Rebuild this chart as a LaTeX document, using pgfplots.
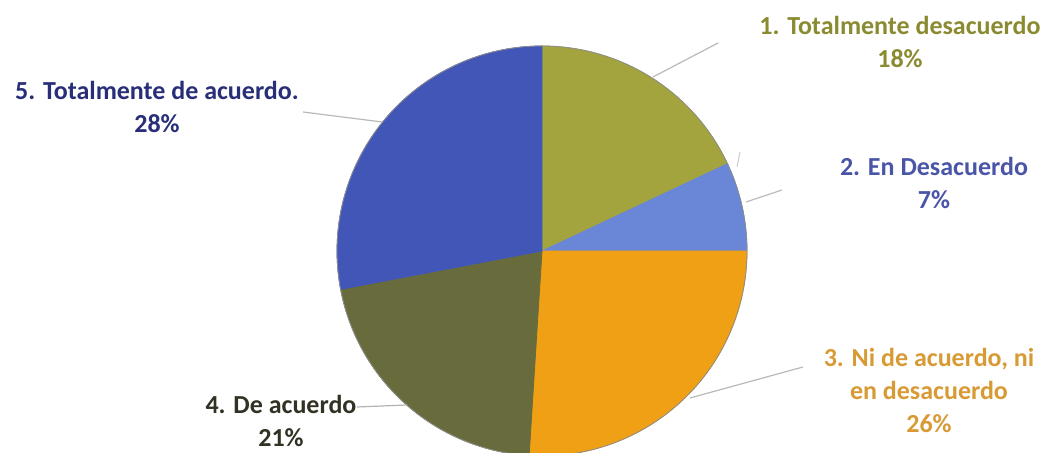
\documentclass[border=0pt]{standalone}
\usepackage{pgfplots}
\pgfplotsset{compat=1.18}
\usepackage{fontspec}
\setmainfont{Carlito}
\definecolor{c1}{RGB}{163,164,62}
\definecolor{c2}{RGB}{106,134,214}
\definecolor{c3}{RGB}{240,160,20}
\definecolor{c4}{RGB}{104,108,60}
\definecolor{c5}{RGB}{66,86,184}
\definecolor{t1}{RGB}{138,138,48}
\definecolor{t2}{RGB}{74,85,168}
\definecolor{t3}{RGB}{216,154,52}
\definecolor{t4}{RGB}{50,50,36}
\definecolor{t5}{RGB}{40,46,120}
% percentages of the five categories
\def\pA{18}\def\pB{7}\def\pC{26}\def\pD{21}\def\pE{28}
\pgfmathsetmacro{\aS}{90}
\pgfmathsetmacro{\aA}{\aS-3.6*\pA}
\pgfmathsetmacro{\aB}{\aA-3.6*\pB}
\pgfmathsetmacro{\aC}{\aB-3.6*\pC}
\pgfmathsetmacro{\aD}{\aC-3.6*\pD}
\pgfmathsetmacro{\aE}{\aD-3.6*\pE}
\def\cx{542}\def\cy{202}\def\rr{205}
\tikzset{lbl/.style={font=\fontsize{13}{16.5}\selectfont\bfseries,align=center,inner sep=0pt}}
\begin{document}
\begin{tikzpicture}
\begin{axis}[width=525.5pt,height=226.5pt,scale only axis,
  xmin=0,xmax=1051,ymin=0,ymax=453,hide axis,clip=true]
\addplot[fill=c1,draw=c1,domain=\aA:\aS,samples=60,variable=\t] ({\cx+\rr*cos(\t)},{\cy+\rr*sin(\t)}) -- (axis cs:\cx,\cy) -- cycle;
\addplot[fill=c2,draw=c2,domain=\aB:\aA,samples=30,variable=\t] ({\cx+\rr*cos(\t)},{\cy+\rr*sin(\t)}) -- (axis cs:\cx,\cy) -- cycle;
\addplot[fill=c3,draw=c3,domain=\aC:\aB,samples=60,variable=\t] ({\cx+\rr*cos(\t)},{\cy+\rr*sin(\t)}) -- (axis cs:\cx,\cy) -- cycle;
\addplot[fill=c4,draw=c4,domain=\aD:\aC,samples=60,variable=\t] ({\cx+\rr*cos(\t)},{\cy+\rr*sin(\t)}) -- (axis cs:\cx,\cy) -- cycle;
\addplot[fill=c5,draw=c5,domain=\aE:\aD,samples=60,variable=\t] ({\cx+\rr*cos(\t)},{\cy+\rr*sin(\t)}) -- (axis cs:\cx,\cy) -- cycle;
\addplot[draw=black!45,line width=0.4pt,domain=0:360,samples=181,variable=\t] ({\cx+\rr*cos(\t)},{\cy+\rr*sin(\t)});
% leader lines
\draw[gray!55,line width=0.6pt] (axis cs:653,376) -- (axis cs:718,410);
\draw[gray!40,line width=0.5pt] (axis cs:737,286) -- (axis cs:740,301);
\draw[gray!55,line width=0.6pt] (axis cs:746,251) -- (axis cs:782,263);
\draw[gray!55,line width=0.6pt] (axis cs:690,55) -- (axis cs:803,86);
\draw[gray!60,line width=0.6pt] (axis cs:357,46) -- (axis cs:407,48);
\draw[gray!55,line width=0.6pt] (axis cs:303,341) -- (axis cs:382,331);
% labels
\node[lbl,text=t1] at (axis cs:900,411) {1. Totalmente desacuerdo\\18\%};
\node[lbl,text=t2] at (axis cs:934,270.5) {2. En Desacuerdo\\7\%};
\node[lbl,text=t3] at (axis cs:929,63) {3. Ni de acuerdo, ni\\en desacuerdo\\26\%};
\node[lbl,text=t4] at (axis cs:281,32) {4. De acuerdo\\21\%};
\node[lbl,text=t5] at (axis cs:157,346.5) {5. Totalmente de acuerdo.\\28\%};
\end{axis}
\pgfresetboundingbox
\path (current axis.south west) rectangle (current axis.north east);
\end{tikzpicture}
\end{document}
